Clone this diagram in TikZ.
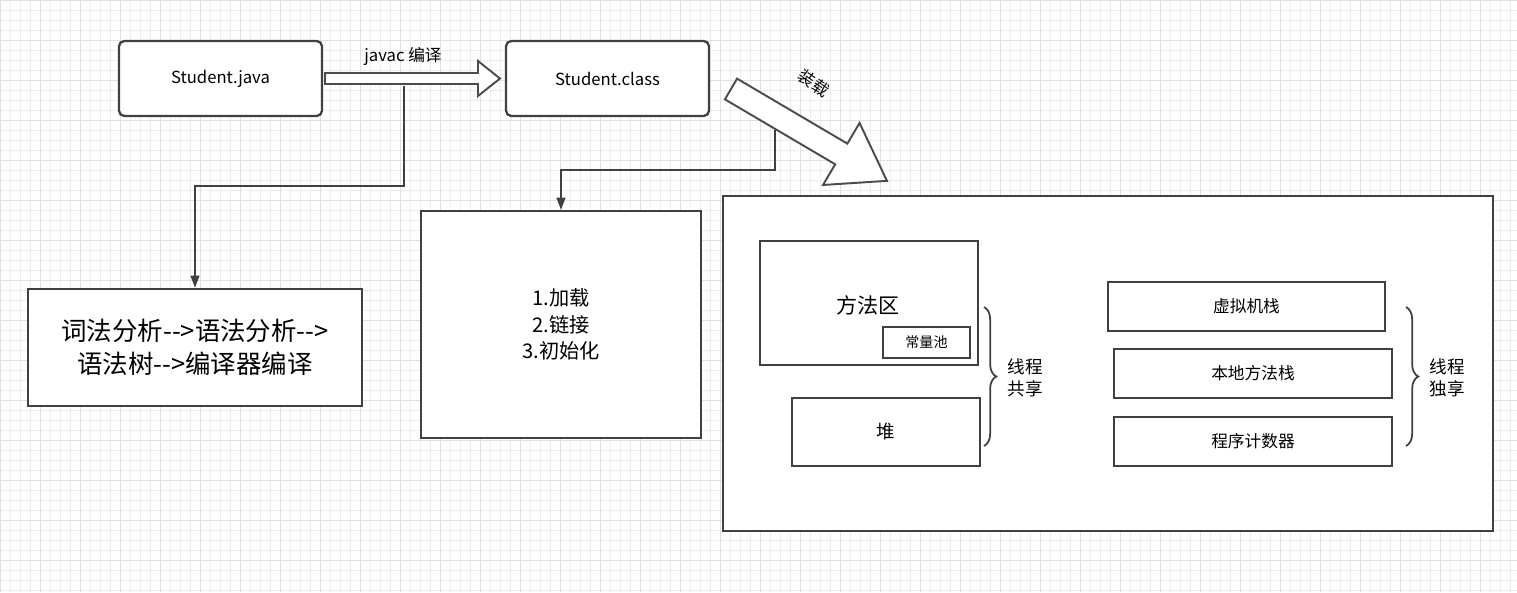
\documentclass[tikz,border=0pt]{standalone}
\usepackage{fontspec}
\setmainfont{Noto Sans CJK SC}
\usetikzlibrary{decorations.pathreplacing,arrows.meta}
\begin{document}
\begin{tikzpicture}[x=0.02cm,y=-0.02cm,
  box/.style={draw=black!75,line width=1.3pt,fill=white,inner sep=0},
  conn/.style={draw=black!75,line width=1.1pt,-{Triangle[length=7pt,width=5pt]}},
  hollow/.style={draw=black!70,line width=1.1pt,fill=white,line join=miter},
  br/.style={draw=black!75,line width=1pt,decorate,decoration={brace,amplitude=7pt}}]
\useasboundingbox (0,0) rectangle (1517,592);
\fill[white] (0,0) rectangle (1517,592);
\foreach \i in {0,10,...,1510} \draw[black!7,line width=0.4pt] (\i,0) -- (\i,592);
\foreach \i in {0,10,...,590} \draw[black!7,line width=0.4pt] (0,\i) -- (1517,\i);
\foreach \i in {0,40,...,1510} \draw[black!12,line width=0.5pt] (\i,0) -- (\i,592);
\foreach \i in {0,40,...,590} \draw[black!12,line width=0.5pt] (0,\i) -- (1517,\i);
% boxes
\node[box,rounded corners=3pt,minimum width=203*0.02cm,minimum height=75*0.02cm,font=\fontsize{9.5}{11}\selectfont] (java) at (220.5,78.5) {Student.java};
\node[box,rounded corners=3pt,minimum width=203*0.02cm,minimum height=75*0.02cm,font=\fontsize{9.5}{11}\selectfont] (cls) at (607.5,78.5) {Student.class};
\node[box,minimum width=334*0.02cm,minimum height=117*0.02cm,align=center,font=\fontsize{14.5}{19}\selectfont] (lex) at (195,347.5) {词法分析-{}->语法分析-{}->\\语法树-{}->编译器编译};
\node[box,minimum width=280*0.02cm,minimum height=227*0.02cm,align=center,font=\fontsize{11.5}{15}\selectfont] (load) at (561,324.5) {1.加载\\2.链接\\3.初始化};
\node[box,minimum width=770*0.02cm,minimum height=335*0.02cm] (jvm) at (1108,363.5) {};
\node[box,minimum width=218*0.02cm,minimum height=124*0.02cm] (ma) at (869,303) {};
\node[font=\fontsize{12}{14}\selectfont] (mat) at (868,305) {方法区};
\node[box,minimum width=87*0.02cm,minimum height=31*0.02cm,font=\fontsize{8}{9}\selectfont] (pool) at (926.5,342.5) {常量池};
\node[box,minimum width=188*0.02cm,minimum height=68*0.02cm,font=\fontsize{10.5}{12}\selectfont] (heap) at (886,432) {堆};
\node[box,minimum width=277*0.02cm,minimum height=49*0.02cm,font=\fontsize{9.5}{11}\selectfont] (vms) at (1246.5,306.5) {虚拟机栈};
\node[box,minimum width=278*0.02cm,minimum height=49*0.02cm,font=\fontsize{9.5}{11}\selectfont] (nms) at (1253,373.5) {本地方法栈};
\node[box,minimum width=278*0.02cm,minimum height=49*0.02cm,font=\fontsize{9.5}{11}\selectfont] (pc) at (1253,441.5) {程序计数器};
% braces
\coordinate (b1a) at (984,307); \coordinate (b1b) at (984,446);
\draw[br] (b1a) -- (b1b);
\node[align=center,font=\fontsize{10}{12.5}\selectfont] (s1) at (1025,378) {线程\\共享};
\coordinate (b2a) at (1406,307); \coordinate (b2b) at (1406,446);
\draw[br] (b2a) -- (b2b);
\node[align=center,font=\fontsize{10}{12.5}\selectfont] (s2) at (1447,378) {线程\\独享};
% hollow arrow javac
\draw[hollow] (325,73) -- (478,73) -- (478,61) -- (500,78.5) -- (478,96) -- (478,84) -- (325,84) -- cycle;
\node[font=\fontsize{9.5}{11}\selectfont] (jl) at (403,56) {javac 编译};
% diagonal hollow arrow
\begin{scope}[shift={(731,89)},rotate=-30.5]
\draw[hollow] (0,-12) -- (128,-12) -- (128,-36) -- (181,0) -- (128,36) -- (128,12) -- (0,12) -- cycle;
\end{scope}
\node[rotate=-35,font=\fontsize{9.5}{11}\selectfont] (zl) at (814,83) {装载};
% connectors
\coordinate (c1) at (404,86);
\draw[conn] (c1) |- (195,186) -- (lex.north);
\coordinate (c2) at (775,130);
\draw[conn] (c2) |- (561,170) -- (load.north);
\end{tikzpicture}
\end{document}
